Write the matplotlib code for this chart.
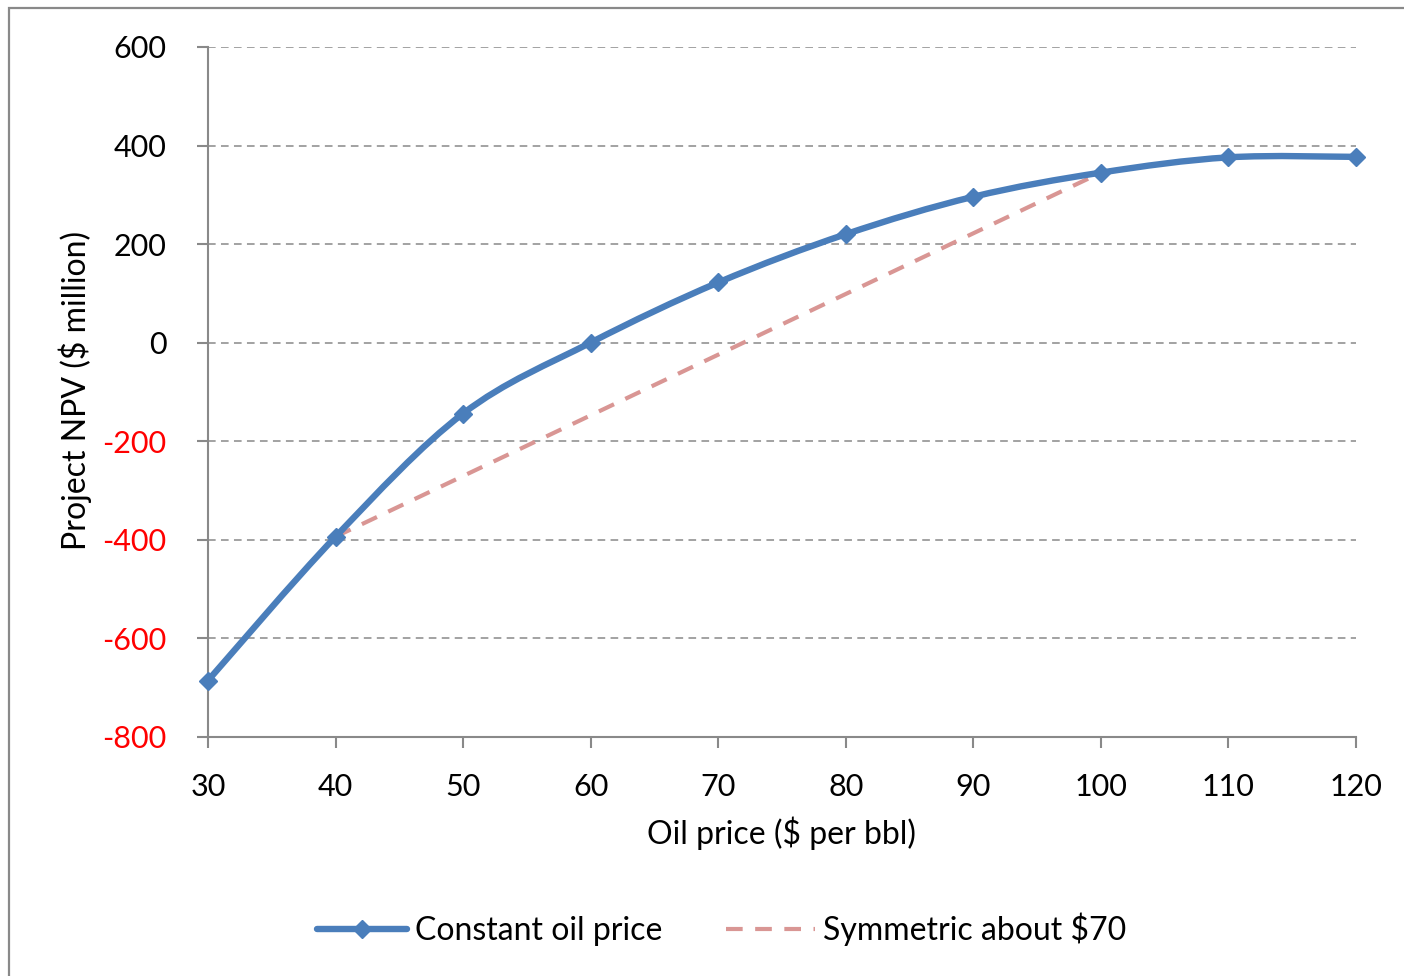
import matplotlib
matplotlib.use("Agg")
import matplotlib.pyplot as plt
from matplotlib.path import Path
from matplotlib.patches import PathPatch, Rectangle
from matplotlib.lines import Line2D
import numpy as np

plt.rcParams['font.family'] = ['Lato', 'DejaVu Sans']

# Data
oil_price = [30, 40, 50, 60, 70, 80, 90, 100, 110, 120]
npv_constant = [-686, -394, -144, 0, 122, 220, 296, 345, 376, 377]
sym_price = [40, 100]
npv_symmetric = [-394, 345]
y_ticks = [-800, -600, -400, -200, 0, 200, 400, 600]
x_ticks = [30, 40, 50, 60, 70, 80, 90, 100, 110, 120]
label_constant = "Constant oil price"
label_symmetric = "Symmetric about $70"

BLUE = '#4a7ebb'
PINK = '#d99694'
GRAY = '#898989'

W, H = 1404, 976
fig = plt.figure(figsize=(W / 100, H / 100), dpi=100)
ax = fig.add_axes([208 / W, 1 - 736.7 / H, (1356 - 208) / W, (736.7 - 47) / H])

# Border of chart area (cropped on right/bottom)
fig.patches.append(Rectangle((9 / W, -0.05), 1.2, 1 - 8 / H + 0.05,
                             transform=fig.transFigure, fill=False,
                             edgecolor=GRAY, linewidth=1.6))

ax.set_xlim(30, 120)
ax.set_ylim(-800, 600)
ax.set_xticks(x_ticks)
ax.set_yticks(y_ticks)
ax.set_xticklabels([str(v) for v in x_ticks])
ax.set_yticklabels([str(v) for v in y_ticks])
for lbl, v in zip(ax.get_yticklabels(), y_ticks):
    lbl.set_color('#ff0000' if v < 0 else 'black')

for s in ['top', 'right']:
    ax.spines[s].set_visible(False)
for s in ['left', 'bottom']:
    ax.spines[s].set_color(GRAY)
    ax.spines[s].set_linewidth(1.5)
ax.tick_params(axis='both', direction='out', length=8, width=1.5, color=GRAY,
               labelsize=22)
ax.tick_params(axis='y', pad=22)
ax.tick_params(axis='x', pad=18)

ax.grid(axis='y', color=GRAY, linestyle=(0, (5, 3.5)), linewidth=1.1)
ax.set_axisbelow(True)
ax.patch.set_visible(False)

# Smoothed (Excel-like) curve: Catmull-Rom -> cubic Bezier
xs = np.array(oil_price, dtype=float)
ys = np.array(npv_constant, dtype=float)
n = len(xs)
verts = [(xs[0], ys[0])]
codes = [Path.MOVETO]
for i in range(n - 1):
    i0 = max(i - 1, 0)
    i3 = min(i + 2, n - 1)
    c1 = (xs[i] + (xs[i + 1] - xs[i0]) / 6, ys[i] + (ys[i + 1] - ys[i0]) / 6)
    c2 = (xs[i + 1] - (xs[i3] - xs[i]) / 6, ys[i + 1] - (ys[i3] - ys[i]) / 6)
    verts += [c1, c2, (xs[i + 1], ys[i + 1])]
    codes += [Path.CURVE4] * 3
curve = PathPatch(Path(verts, codes), transform=ax.transData, fill=False,
                  edgecolor=BLUE, linewidth=4.6, capstyle='round',
                  joinstyle='round', zorder=3, clip_on=False)
ax.add_patch(curve)

ax.plot(sym_price, npv_symmetric, color=PINK, linewidth=3,
        linestyle=(0, (4, 3)), zorder=2)
ax.plot(oil_price, npv_constant, linestyle='none', marker='D', markersize=9.5,
        color=BLUE, zorder=4, clip_on=False)

fig.text(782 / W, 1 - 833 / H, "Oil price ($ per bbl)", ha='center',
         va='center', fontsize=23)
fig.text(75 / W, 1 - 390 / H, "Project NPV ($ million)", ha='center',
         va='center', rotation=90, fontsize=23)

handles = [
    Line2D([], [], color=BLUE, linewidth=4.6, marker='D', markersize=9.5,
           solid_capstyle='round'),
    Line2D([], [], color=PINK, linewidth=3, linestyle=(0, (4, 3))),
]
fig.legend(handles, [label_constant, label_symmetric], loc='center',
           bbox_to_anchor=(722 / W, 1 - 929 / H), ncol=2, frameon=False,
           fontsize=23, handlelength=2.8, handletextpad=0.25,
           columnspacing=2.0, borderpad=0)

fig.savefig("out.png", dpi=100)
